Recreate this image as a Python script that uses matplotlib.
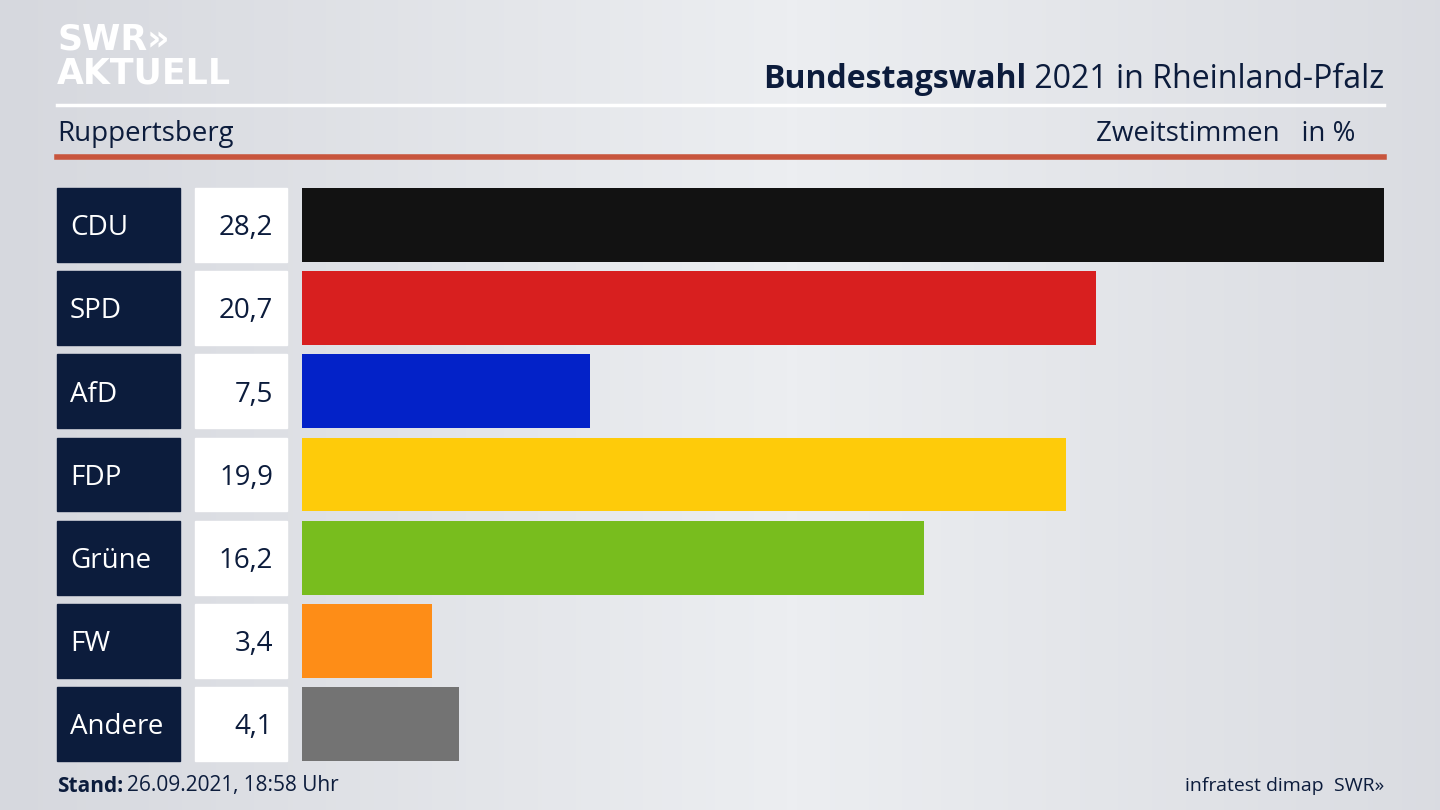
import matplotlib
matplotlib.use("Agg")
import matplotlib.pyplot as plt
import numpy as np
from matplotlib.patches import Rectangle
from matplotlib.transforms import blended_transform_factory

parties = ["CDU", "SPD", "AfD", "FDP", "Grüne", "FW", "Andere"]
values = [28.2, 20.7, 7.5, 19.9, 16.2, 3.4, 4.1]
value_labels = ["28,2", "20,7", "7,5", "19,9", "16,2", "3,4", "4,1"]
colors = ["#121212", "#d81f1f", "#0322c8", "#fecb0a", "#78bd1e", "#fe8d17", "#737373"]

navy = "#0c1c3c"
plt.rcParams["font.family"] = "Open Sans"
W, H = 1440, 810
fig = plt.figure(figsize=(14.4, 8.1), dpi=100)

bg = fig.add_axes([0, 0, 1, 1])
bg.set_xlim(0, W); bg.set_ylim(H, 0); bg.axis("off")
xx = np.linspace(0, 1, 300)
grad = 1 - np.abs(xx - 0.55) * 1.2
img = np.outer(np.ones(10), grad)
bg.imshow(img, extent=[0, W, H, 0], cmap=matplotlib.colors.LinearSegmentedColormap.from_list("g", ["#d6d8de", "#eceef1"]),
          aspect="auto", zorder=0)

# header
bg.text(57, 39, "SWR»", color="white", fontsize=25, fontweight="bold", va="center", family="DejaVu Sans")
bg.text(57, 73, "AKTUELL", color="white", fontsize=25, fontweight="bold", va="center", family="DejaVu Sans")
t = bg.text(1384, 80, " 2021 in Rheinland-Pfalz", color=navy, fontsize=23, ha="right", va="center")
fig.canvas.draw()
bb = t.get_window_extent()
bg.text(bb.x0, 80, "Bundestagswahl", color=navy, fontsize=23, ha="right", va="center", fontweight="bold")
bg.plot([57, 1384], [105, 105], color="white", lw=2.5)
bg.text(57, 134, "Ruppertsberg", color=navy, fontsize=20, va="center")
bg.text(1355, 134, "Zweitstimmen   in %", color=navy, fontsize=20, va="center", ha="right")
bg.plot([57, 1384], [157, 157], color="#c8553d", lw=4)
bg.text(57, 786, "Stand:", color=navy, fontsize=15, va="center", fontweight="bold")
bg.text(127, 786, "26.09.2021, 18:58 Uhr", color=navy, fontsize=15, va="center")
bg.text(1384, 786, "infratest dimap  SWR»", color=navy, fontsize=14, va="center", ha="right")

# bars
top, bot = 183.4, 765.6
ax = fig.add_axes([302 / W, 1 - bot / H, (1384 - 302) / W, (bot - top) / H])
ax.set_xlim(0, max(values)); ax.set_ylim(len(parties) - 0.5, -0.5)
ax.axis("off")
y = np.arange(len(parties))
ax.barh(y, values, height=0.889, color=colors)
tr = blended_transform_factory(bg.transData, ax.transData)
for i, (p, v) in enumerate(zip(parties, value_labels)):
    fig.add_artist(Rectangle((57, i - 0.4445), 123, 0.889, transform=tr, color=navy))
    fig.add_artist(Rectangle((195, i - 0.4445), 92, 0.889, transform=tr, color="white"))
    fig.text(70, i + 0.04, p, transform=tr, color="white", fontsize=20, va="center")
    fig.text(273, i + 0.04, v, transform=tr, color=navy, fontsize=20, va="center", ha="right")

fig.savefig("out.png", dpi=100)
